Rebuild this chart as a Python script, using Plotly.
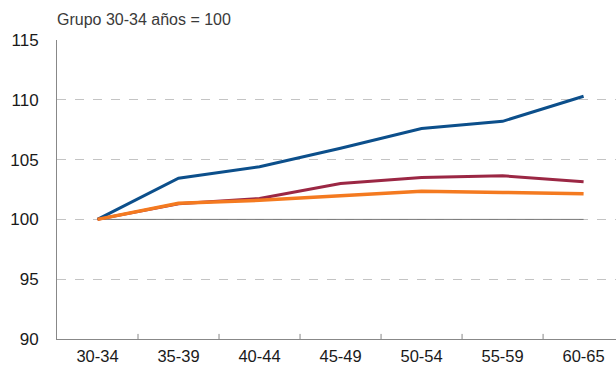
import plotly.graph_objects as go

# Age groups and indexed values (group 30-34 = 100)
grupos = ["30-34", "35-39", "40-44", "45-49", "50-54", "55-59", "60-65"]
serie_azul = [100, 103.45, 104.4, 105.95, 107.6, 108.2, 110.3]
serie_granate = [100, 101.3, 101.75, 103.0, 103.5, 103.65, 103.15]
serie_naranja = [100, 101.35, 101.6, 101.95, 102.35, 102.25, 102.15]
base = [100] * len(grupos)

y_ticks = [90, 95, 100, 105, 110, 115]

x_pos = list(range(len(grupos)))

fig = go.Figure()

# Reference line at 100
fig.add_trace(go.Scatter(x=x_pos, y=base, mode="lines",
                         line=dict(color="#777777", width=1), hoverinfo="skip"))

fig.add_trace(go.Scatter(x=x_pos, y=serie_azul, mode="lines",
                         line=dict(color="#0c4f8b", width=3)))
fig.add_trace(go.Scatter(x=x_pos, y=serie_granate, mode="lines",
                         line=dict(color="#9b2744", width=3)))
fig.add_trace(go.Scatter(x=x_pos, y=serie_naranja, mode="lines",
                         line=dict(color="#f47a20", width=3.5)))

fig.update_layout(
    width=616, height=368,
    margin=dict(l=57, r=0, t=40, b=29),
    paper_bgcolor="white", plot_bgcolor="white",
    showlegend=False,
    font=dict(family="Liberation Sans, Arial, sans-serif", size=17, color="#1a1a1a"),
    xaxis=dict(
        range=[-0.5, 6.4],
        tickmode="array",
        tickvals=x_pos,
        ticktext=grupos,
        showgrid=False, zeroline=False,
        showline=True, linecolor="#888888", linewidth=1,
        ticks="", ticklabelstandoff=2, automargin=False,
        tickfont=dict(size=16.5),
    ),
    yaxis=dict(
        range=[90, 115],
        tickvals=y_ticks,
        showgrid=True, gridcolor="#c4c4c4", griddash="dash", gridwidth=1,
        zeroline=False,
        showline=True, linecolor="#888888", linewidth=1,
        ticks="", ticklabelstandoff=14, automargin=False,
    ),
    annotations=[dict(
        text="Grupo 30-34 años = 100", xref="paper", yref="paper",
        x=0, y=1, yshift=21, xshift=-2, xanchor="left", yanchor="middle",
        showarrow=False, font=dict(size=16, color="#3a3a3a"),
    )],
)

# Small tick marks between categories along the bottom axis
for i in range(len(grupos) - 1):
    fig.add_shape(type="line", xref="x", yref="paper",
                  x0=i + 0.5, x1=i + 0.5, y0=0, y1=0.017,
                  line=dict(color="#888888", width=1))

fig.write_html("out.html")
